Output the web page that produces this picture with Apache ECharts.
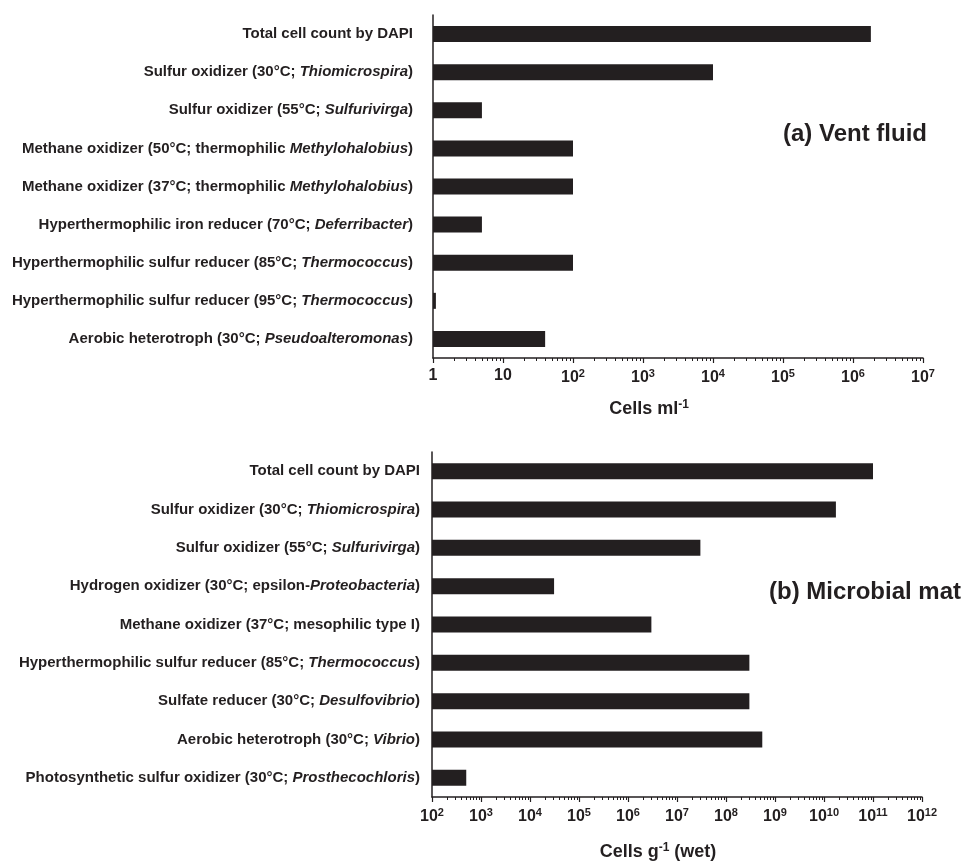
<!DOCTYPE html>
<html>
<head>
<meta charset="utf-8">
<script src="https://cdn.jsdelivr.net/npm/echarts@6/dist/echarts.min.js"></script>
<style>
  html, body { margin: 0; padding: 0; background: #fff; }
  #chart { width: 973px; height: 862px; }
</style>
</head>
<body>
<div id="chart"></div>
<script>
// (a) vent fluid, cells per ml
const ventCategories = [
  'Total cell count by DAPI',
  'Sulfur oxidizer (30°C; Thiomicrospira)',
  'Sulfur oxidizer (55°C; Sulfurivirga)',
  'Methane oxidizer (50°C; thermophilic Methylohalobius)',
  'Methane oxidizer (37°C; thermophilic Methylohalobius)',
  'Hyperthermophilic iron reducer (70°C; Deferribacter)',
  'Hyperthermophilic sulfur reducer (85°C; Thermococcus)',
  'Hyperthermophilic sulfur reducer (95°C; Thermococcus)',
  'Aerobic heterotroph (30°C; Pseudoalteromonas)'
]
const ventValues = [1.8e6, 1e4, 5, 100, 100, 5, 100, 1.1, 40]

// (b) microbial mat, cells per g (wet)
const matCategories = [
  'Total cell count by DAPI',
  'Sulfur oxidizer (30°C; Thiomicrospira)',
  'Sulfur oxidizer (55°C; Sulfurivirga)',
  'Hydrogen oxidizer (30°C; epsilon-Proteobacteria)',
  'Methane oxidizer (37°C; mesophilic type I)',
  'Hyperthermophilic sulfur reducer (85°C; Thermococcus)',
  'Sulfate reducer (30°C; Desulfovibrio)',
  'Aerobic heterotroph (30°C; Vibrio)',
  'Photosynthetic sulfur oxidizer (30°C; Prosthecochloris)'
]
const matValues = [1e11, 1.75e10, 3e7, 3.1e4, 3e6, 3e8, 3e8, 5.5e8, 500]

// genus names printed in italics
const italicWords = [
  'Thiomicrospira', 'Sulfurivirga', 'Methylohalobius', 'Deferribacter',
  'Thermococcus', 'Pseudoalteromonas', 'Proteobacteria', 'Desulfovibrio',
  'Vibrio', 'Prosthecochloris'
]

const FONT = '"Liberation Sans", Arial, sans-serif'
const INK = '#231f20'

function italicLabel(text) {
  let out = text
  italicWords.forEach((w) => {
    out = out.replace(new RegExp('\\b' + w + '\\b'), '{i|' + w + '}')
  })
  return out
}

// minor ticks at 2..9 of every decade
function minorTicks(fromExp, toExp) {
  const ticks = []
  for (let e = fromExp; e < toExp; e++) {
    for (let m = 2; m <= 9; m++) ticks.push(m * Math.pow(10, e))
  }
  return ticks
}

function powLabel(plainSmall) {
  return (v) => {
    const e = Math.round(Math.log10(v))
    if (plainSmall && e === 0) return '1'
    if (plainSmall && e === 1) return '10'
    return '10{sup|' + e + '}'
  }
}

const supStyle = { fontFamily: FONT, fontSize: 11, fontWeight: 'bold', color: INK, verticalAlign: 'top', padding: [0, 0, 8, 0] }
const labelRich = {
  i: { fontFamily: FONT, fontSize: 15, fontWeight: 'bold', fontStyle: 'italic', color: INK }
}

const chart = echarts.init(document.getElementById('chart'))

function mainXAxis(gridIndex, min, max, plainSmall, name, nameGap, namePadRight) {
  return {
    type: 'log',
    logBase: 10,
    gridIndex,
    position: 'bottom',
    min,
    max,
    axisLine: { show: true, lineStyle: { color: INK, width: 1.5 } },
    axisTick: { show: true, length: 5, lineStyle: { color: INK, width: 1.2 } },
    splitLine: { show: false },
    axisLabel: {
      margin: 10,
      fontFamily: FONT,
      fontSize: 16,
      fontWeight: 'bold',
      color: INK,
      formatter: powLabel(plainSmall),
      rich: { sup: supStyle }
    },
    name,
    nameLocation: 'middle',
    nameGap,
    nameTextStyle: {
      fontFamily: FONT,
      fontSize: 18,
      fontWeight: 'bold',
      color: INK,
      padding: [0, namePadRight, 0, 0],
      rich: { sup: Object.assign({}, supStyle, { fontSize: 12 }) }
    }
  }
}

function minorXAxis(gridIndex, min, max, fromExp, toExp) {
  return {
    type: 'log',
    logBase: 10,
    gridIndex,
    position: 'bottom',
    min,
    max,
    axisLine: { show: false },
    splitLine: { show: false },
    axisLabel: { show: false },
    axisTick: {
      show: true,
      length: 3,
      customValues: minorTicks(fromExp, toExp),
      lineStyle: { color: INK, width: 1 }
    }
  }
}

function catYAxis(gridIndex, data, margin) {
  return {
    type: 'category',
    gridIndex,
    data,
    inverse: true,
    axisLine: { show: true, lineStyle: { color: INK, width: 1.5 } },
    axisTick: { show: false },
    axisLabel: {
      margin,
      fontFamily: FONT,
      fontSize: 15,
      fontWeight: 'bold',
      color: INK,
      formatter: italicLabel,
      rich: labelRich
    }
  }
}

const option = {
  backgroundColor: '#fff',
  animation: false,
  title: [
    {
      text: '(a) Vent fluid',
      left: 778,
      top: 117,
      textStyle: { fontFamily: FONT, fontSize: 24, fontWeight: 'bold', color: INK }
    },
    {
      text: '(b) Microbial mat',
      left: 764,
      top: 575,
      textStyle: { fontFamily: FONT, fontSize: 24, fontWeight: 'bold', color: INK }
    }
  ],
  grid: [
    { left: 433, right: 50, top: 15, height: 343, outerBoundsMode: 'none' },
    { left: 432, right: 51, top: 452, height: 345, outerBoundsMode: 'none' }
  ],
  xAxis: [
    mainXAxis(0, 1, 1e7, true, 'Cells ml{sup|-1}', 41, 58),
    mainXAxis(1, 1e2, 1e12, false, 'Cells g{sup|-1} (wet)', 45, 38),
    minorXAxis(0, 1, 1e7, 0, 7),
    minorXAxis(1, 1e2, 1e12, 2, 12)
  ],
  yAxis: [
    catYAxis(0, ventCategories, 20),
    catYAxis(1, matCategories, 12)
  ],
  series: [
    {
      type: 'bar',
      xAxisIndex: 0,
      yAxisIndex: 0,
      data: ventValues,
      barWidth: 16,
      itemStyle: { color: INK }
    },
    {
      type: 'bar',
      xAxisIndex: 1,
      yAxisIndex: 1,
      data: matValues,
      barWidth: 16,
      itemStyle: { color: INK }
    }
  ]
}

chart.setOption(option)
</script>
</body>
</html>
